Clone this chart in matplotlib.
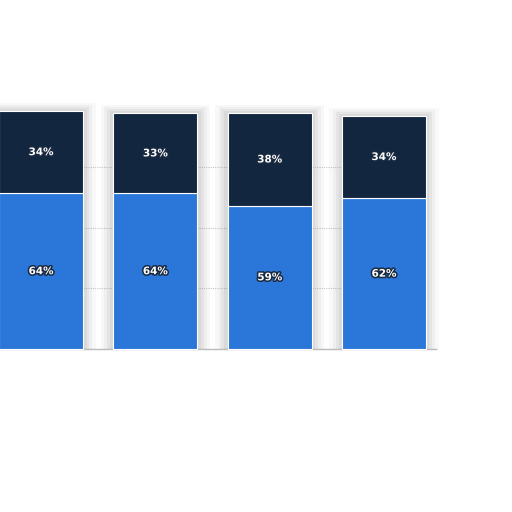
import numpy as np
import matplotlib
matplotlib.use('Agg')
import matplotlib.pyplot as plt
import matplotlib.patheffects as pe

categories = ['A', 'B', 'C', 'D']
bottom_share = [64, 64, 59, 62]
top_share = [34, 33, 38, 34]
grid_levels = [25, 50, 75]

blue = '#2a76d9'
navy = '#13263f'

fig = plt.figure(figsize=(5.12, 5.12), dpi=100)
ax = fig.add_axes([0, 0, 1, 1])
x = np.arange(len(categories))
w = 0.735

# soft grey shadow behind the bars
for k, a in zip([0.22, 0.16, 0.11, 0.06], [0.05, 0.07, 0.09, 0.11]):
    ax.bar(x, np.add(bottom_share, top_share) + k * 15, width=w + k,
           color='#808080', alpha=a, linewidth=0, zorder=1)

ax.hlines(grid_levels, -0.4, x[-1] - w / 2, colors='#c8c8c8',
          linestyles=(0, (1, 1)), linewidth=0.8, zorder=0.5)
ax.hlines([0], -0.4, x[-1] + w / 2 + 0.1, colors='#bbbbbb', linewidth=1.0, zorder=0.5)

ax.bar(x, bottom_share, width=w, color=blue, edgecolor='white', linewidth=0.8, zorder=2)
ax.bar(x, top_share, width=w, bottom=bottom_share, color=navy,
       edgecolor='white', linewidth=0.8, zorder=2)

stroke = [pe.withStroke(linewidth=2.2, foreground='#1a2a40')]
for i in x:
    ax.text(i, bottom_share[i] / 2, f'{bottom_share[i]}%', ha='center', va='center',
            color='white', fontsize=7.5, fontweight='bold', path_effects=stroke, zorder=3)
    ax.text(i, bottom_share[i] + top_share[i] / 2, f'{top_share[i]}%', ha='center',
            va='center', color='white', fontsize=7.5, fontweight='bold',
            path_effects=stroke, zorder=3)

ax.set_xlim(-0.36, -0.36 + 512 / 114.3)
ax.set_ylim(-163 / 2.43, (512 - 163) / 2.43)
ax.axis('off')
fig.savefig('out.png', dpi=100, facecolor='white')
